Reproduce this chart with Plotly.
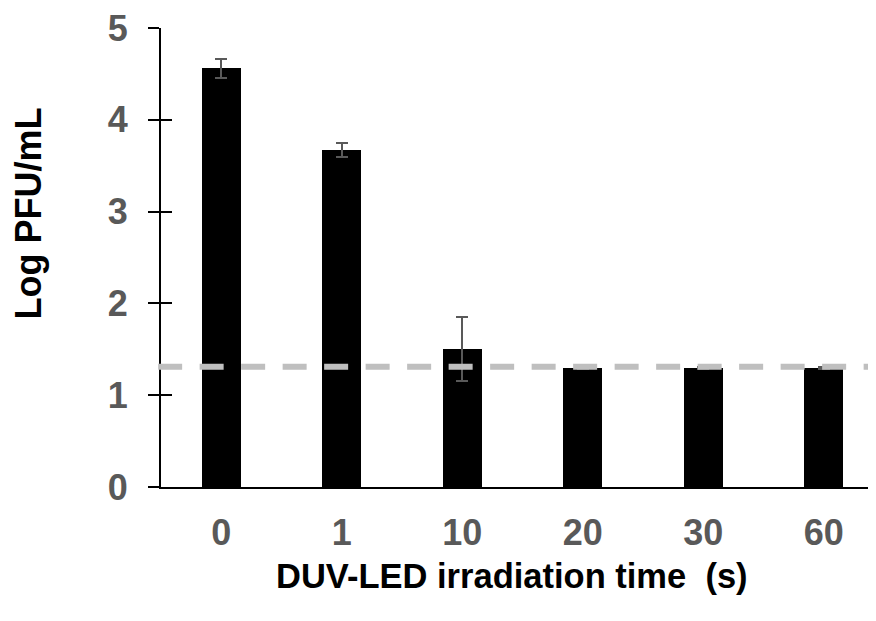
import plotly.graph_objects as go

categories = ["0", "1", "10", "20", "30", "60"]
log_pfu = [4.56, 3.67, 1.50, 1.30, 1.30, 1.30]
err = [0.10, 0.08, 0.35, 0.01, 0.01, 0.01]
detection_limit = 1.31
y_ticks = [0, 1, 2, 3, 4, 5]

FONT = "Liberation Sans, Arial, sans-serif"
GRAY = "#595959"

fig = go.Figure()
fig.add_trace(go.Bar(
    x=categories, y=log_pfu, width=0.325,
    marker=dict(color="black", line=dict(width=0)),
    error_y=dict(type="data", array=err, visible=True, color=GRAY,
                 thickness=2, width=6),
    showlegend=False,
))
# invisible trace for the overlay axis (inside ticks)
fig.add_trace(go.Scatter(x=categories, y=log_pfu, yaxis="y2", mode="none",
                         showlegend=False, hoverinfo="skip"))

fig.add_shape(type="line", xref="paper", yref="y", x0=-0.004, x1=1,
              y0=detection_limit, y1=detection_limit,
              line=dict(color="#BFBFBF", width=6, dash="24px,17.5px"),
              layer="above")

fig.update_layout(
    width=868, height=613,
    margin=dict(l=153, r=0, t=17, b=134, pad=0),
    plot_bgcolor="white", paper_bgcolor="white",
    bargap=0,
    xaxis=dict(
        type="category", range=[-0.5, 5.434],
        showline=True, linecolor="black", linewidth=2,
        ticks="", showgrid=False, zeroline=False,
        tickfont=dict(family=FONT, size=36, color=GRAY, weight="bold"),
        ticklabelstandoff=13, ticklabeloverflow="allow",
    ),
    yaxis=dict(
        range=[0, 5], tickvals=y_ticks,
        showline=True, linecolor="black", linewidth=2,
        ticks="outside", ticklen=11, tickwidth=2, tickcolor="black",
        showgrid=False, zeroline=False,
        tickfont=dict(family=FONT, size=36, color=GRAY, weight="bold"),
        ticklabelstandoff=13, ticklabeloverflow="allow",
    ),
    yaxis2=dict(
        range=[0, 5], tickvals=y_ticks, overlaying="y", side="left",
        anchor="x", showline=False, showgrid=False, zeroline=False,
        ticks="inside", ticklen=11, tickwidth=2, tickcolor="black",
        showticklabels=False,
    ),
    annotations=[
        dict(text="Log PFU/mL", xref="paper", yref="paper",
             x=-0.186, y=0.596, xanchor="center", yanchor="middle",
             textangle=-90, showarrow=False,
             font=dict(family=FONT, size=36, color="black", weight="bold")),
        dict(text="DUV-LED irradiation time \u00a0(s)", xref="paper", yref="paper",
             x=0.4916, y=-0.194, xanchor="center", yanchor="middle",
             showarrow=False,
             font=dict(family=FONT, size=34.5, color="black", weight="bold")),
    ],
)

fig.write_html("out.html")
